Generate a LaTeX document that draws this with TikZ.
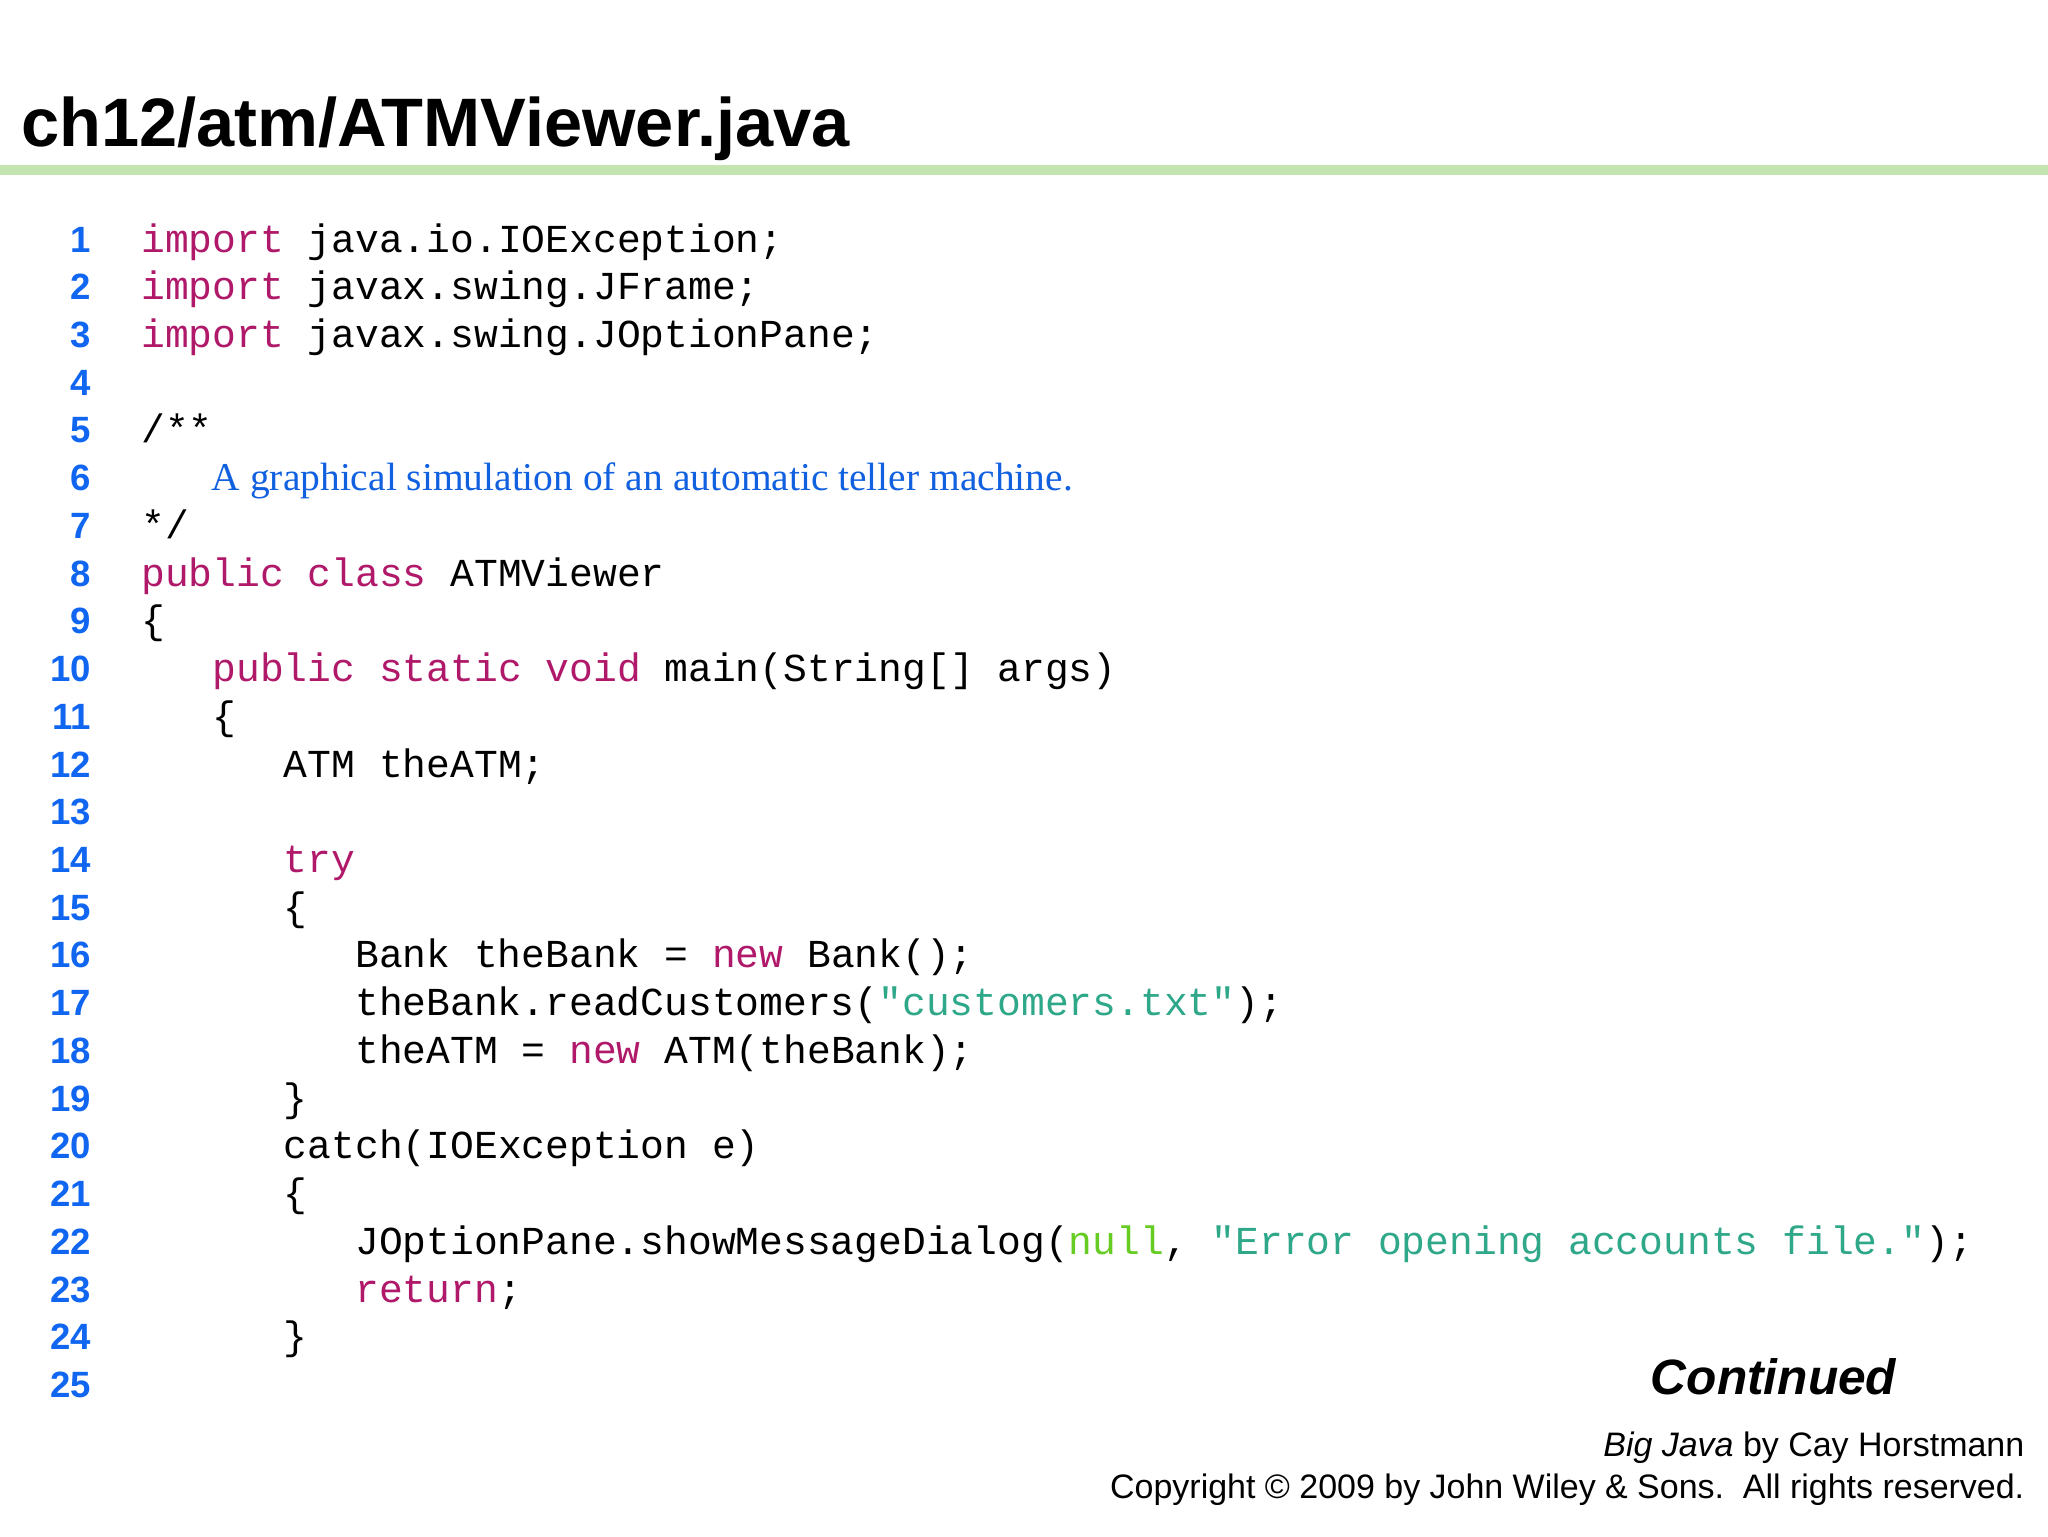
\documentclass[tikz,border=0pt]{standalone}
\usepackage{fontspec}
\setmainfont{Liberation Serif}
\setsansfont{Liberation Sans}
\setmonofont{Liberation Mono}
\definecolor{kw}{HTML}{B0186A}
\definecolor{str}{HTML}{2FA88A}
\definecolor{nul}{HTML}{66CC22}
\definecolor{num}{HTML}{1066F0}
\definecolor{cmt}{HTML}{1060E0}
\definecolor{rule}{HTML}{C5E5B0}
\newcommand{\K}[1]{\textcolor{kw}{#1}}
\newcommand{\St}[1]{\textcolor{str}{#1}}
\newcommand{\Nl}[1]{\textcolor{nul}{#1}}
\tikzset{x=1pt,y=-1pt,
 codeline/.style={anchor=base west,inner sep=0pt,font=\fontsize{30.35}{30}\ttfamily},
 lnum/.style={anchor=base east,inner sep=0pt,font=\fontsize{28}{28}\sffamily\bfseries,text=num}}
\begin{document}
\begin{tikzpicture}
\useasboundingbox[fill=white] (0,0) rectangle (1568,1176);
\node[anchor=base west,inner sep=0pt,font=\fontsize{52.5}{52}\sffamily\bfseries] (title) at (16,112) {ch12/atm/ATMViewer.java};
\fill[rule] (0,126) rectangle (1568,134);
\foreach \n in {1,...,25} {\node[lnum] (n\n) at (70,{183+36.54*(\n-1)+10}) {\n};}
\newcommand{\cl}[3]{\node[codeline] (c#1) at ({108+18.2*#2},{183+36.54*(#1-1)+10}) {#3};}
\cl{1}{0}{\K{import}\ java.io.IOException;}
\cl{2}{0}{\K{import}\ javax.swing.JFrame;}
\cl{3}{0}{\K{import}\ javax.swing.JOptionPane;}
\cl{5}{0}{/**}
\node[anchor=base west,inner sep=0pt,font=\fontsize{30.2}{30}\rmfamily,text=cmt] (c6) at (162,{183+36.54*5+10}) {A graphical simulation of an automatic teller machine.};
\cl{7}{0}{*/}
\cl{8}{0}{\K{public}\ \K{class}\ ATMViewer}
\cl{9}{0}{\{}
\cl{10}{3}{\K{public}\ \K{static}\ \K{void}\ main(String[]\ args)}
\cl{11}{3}{\{}
\cl{12}{6}{ATM\ theATM;}
\cl{14}{6}{\K{try}}
\cl{15}{6}{\{}
\cl{16}{9}{Bank\ theBank\ =\ \K{new}\ Bank();}
\cl{17}{9}{theBank.readCustomers(\St{"customers.txt"});}
\cl{18}{9}{theATM\ =\ \K{new}\ ATM(theBank);}
\cl{19}{6}{\}}
\cl{20}{6}{catch(IOException\ e)}
\cl{21}{6}{\{}
\cl{22}{9}{JOptionPane.showMessageDialog(\Nl{null},\ \St{"Error\ opening\ accounts\ file."});}
\cl{23}{9}{\K{return};}
\cl{24}{6}{\}}
\node[anchor=base east,inner sep=0pt,font=\fontsize{38}{38}\sffamily\bfseries\itshape] (cont) at (1452,1068) {Continued};
\node[anchor=base east,inner sep=0pt,font=\fontsize{26}{26}\sffamily] (f1) at (1550,1115) {\textit{Big Java} by Cay Horstmann};
\node[anchor=base east,inner sep=0pt,font=\fontsize{26}{26}\sffamily] (f2) at (1550,1147) {Copyright © 2009 by John Wiley \& Sons.\ \ All rights reserved.};
\end{tikzpicture}
\end{document}
